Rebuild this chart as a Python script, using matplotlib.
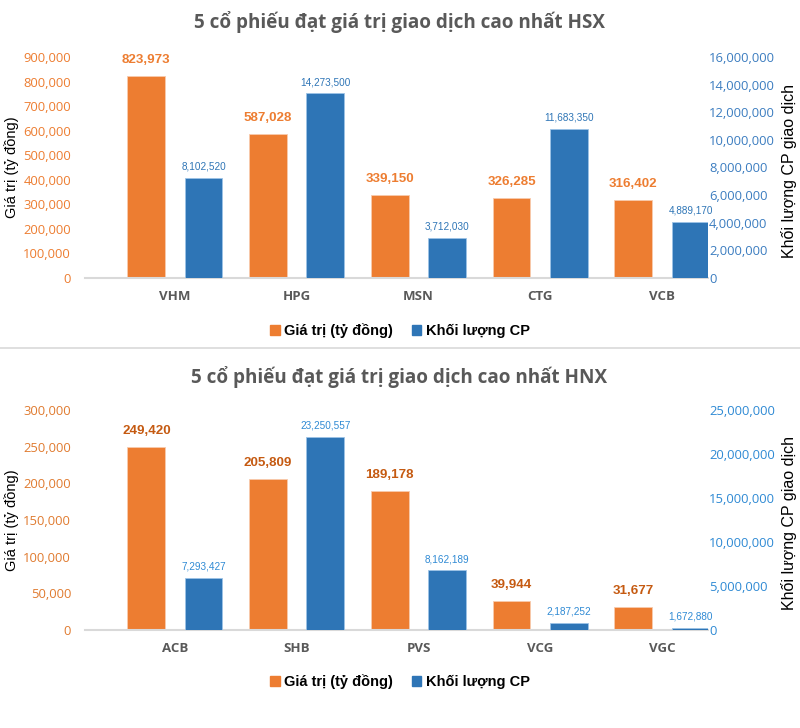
import numpy as np
import matplotlib
matplotlib.use("Agg")
import matplotlib.pyplot as plt
from matplotlib.patches import Patch
from matplotlib.lines import Line2D
from matplotlib.ticker import FuncFormatter
from matplotlib import font_manager

# data
hsx_codes = ["VHM", "HPG", "MSN", "CTG", "VCB"]
hsx_value = [823973, 587028, 339150, 326285, 316402]
hsx_volume = [8102520, 14273500, 3712030, 11683350, 4889170]

hnx_codes = ["ACB", "SHB", "PVS", "VCG", "VGC"]
hnx_value = [249420, 205809, 189178, 39944, 31677]
hnx_volume = [7293427, 23250557, 8162189, 2187252, 1672880]

ORANGE = "#ED7D31"
BLUE = "#2E75B6"
GRAY = "#595959"

# narrow font for the data labels if it is there, else plain Liberation a bit smaller
names = {f.name for f in font_manager.fontManager.ttflist}
if "Liberation Sans Narrow" in names:
    NARROW, VAL_SIZE, VOL_SIZE = "Liberation Sans Narrow", 10.5, 8
else:
    NARROW, VAL_SIZE, VOL_SIZE = "Liberation Sans", 9.6, 7.2

comma = FuncFormatter(lambda v, _: f"{v:,.0f}")

fig = plt.figure(figsize=(8, 7.28), dpi=100)


def panel(rect, title, title_y, codes, values, volumes, vmax, vstep,
          volmax, volstep, vol_lim, left_col, right_col, val_lab_col,
          vol_lab_col, legend_y):
    x = np.arange(len(codes))
    ax = fig.add_axes(rect)
    ax.bar(x - 0.235, values, 0.31, color=ORANGE, edgecolor="#F8CBAD", linewidth=0.6)
    ax.set_xlim(-0.739, 4.378)
    ax.set_ylim(0, vmax)
    ax.set_yticks(np.arange(0, vmax + 1, vstep))
    ax.yaxis.set_major_formatter(comma)
    ax.tick_params(axis="y", length=0, pad=10, labelcolor=left_col, labelsize=9.4)
    for lab in ax.get_yticklabels():
        lab.set_family("Open Sans")
    ax.set_xticks(x)
    ax.set_xticklabels(codes, fontsize=9.5, fontweight="bold", color=GRAY, family="Open Sans")
    ax.tick_params(axis="x", length=0, pad=9)
    for s in ["top", "left", "right"]:
        ax.spines[s].set_visible(False)
    ax.spines["bottom"].set_color("#D9D9D9")
    ax.spines["bottom"].set_linewidth(1.5)
    for xi, v in zip(x, values):
        ax.annotate(f"{v:,}", (xi - 0.235, v), xytext=(0, 11.5), textcoords="offset points",
                    ha="center", va="center", fontsize=VAL_SIZE, fontweight="bold",
                    color=val_lab_col, family=NARROW)

    # right axis that carries the labels
    ax2 = ax.twinx()
    ax2.set_ylim(0, volmax)
    ax2.set_yticks(np.arange(0, volmax + 1, volstep))
    ax2.yaxis.set_major_formatter(comma)
    ax2.tick_params(axis="y", length=0, pad=0.7, labelcolor=right_col, labelsize=9.4)
    for lab in ax2.get_yticklabels():
        lab.set_family("Open Sans")
    for s in ax2.spines.values():
        s.set_visible(False)

    # the blue bars sit a little lower than the printed scale in the original
    ax3 = ax.twinx()
    ax3.set_ylim(*vol_lim)
    ax3.set_yticks([])
    for s in ax3.spines.values():
        s.set_visible(False)
    ax3.bar(x + 0.235, volumes, 0.31, color=BLUE, edgecolor="#9DC3E6", linewidth=0.6)
    for xi, v in zip(x, volumes):
        ax3.annotate(f"{v:,}", (xi + 0.235, v), xytext=(0, 8), textcoords="offset points",
                     ha="center", va="center", fontsize=VOL_SIZE, color=vol_lab_col, family=NARROW)

    cy = rect[1] + rect[3] / 2
    fig.text(399 / 800, 1 - title_y / 728, title, ha="center", va="center",
             fontsize=13.6, fontweight="bold", color=GRAY, family="Open Sans")
    fig.text(12 / 800, cy, "Giá trị (tỷ đồng)", rotation=90, ha="center", va="center",
             fontsize=10.5, family="Liberation Sans")
    fig.text(789 / 800, cy - 3 / 728, "Khối lượng CP giao dịch", rotation=90, ha="center",
             va="center", fontsize=11.5, family="Liberation Sans")
    handles = [Patch(color=ORANGE, label="Giá trị (tỷ đồng)"),
               Patch(color=BLUE, label="Khối lượng CP")]
    fig.legend(handles=handles, loc="center", bbox_to_anchor=(0.5, 1 - legend_y / 728),
               ncol=2, frameon=False, handlelength=0.65, handleheight=0.65,
               handletextpad=0.3, columnspacing=1.3,
               prop={"family": "Liberation Sans", "weight": "bold", "size": 10.5})


panel([85 / 800, 1 - 278 / 728, 623 / 800, 221 / 728],
      "5 cổ phiếu đạt giá trị giao dịch cao nhất HSX", 22,
      hsx_codes, hsx_value, hsx_volume, 900000, 100000, 16000000, 2000000,
      (800000, 16930000), "#ED7D31", "#3C7DC0", "#ED7D31", "#2E75B6", 331)

panel([85 / 800, 1 - 630 / 728, 623 / 800, 220 / 728],
      "5 cổ phiếu đạt giá trị giao dịch cao nhất HNX", 377,
      hnx_codes, hnx_value, hnx_volume, 300000, 50000, 25000000, 5000000,
      (1400000, 26320000), "#E07B30", "#2F8AD4", "#C55A11", "#2F8AD4", 682)

fig.add_artist(Line2D([0, 1], [1 - 348 / 728] * 2, color="#D9D9D9", lw=1.2,
                      transform=fig.transFigure))

fig.savefig("out.png", dpi=100)
